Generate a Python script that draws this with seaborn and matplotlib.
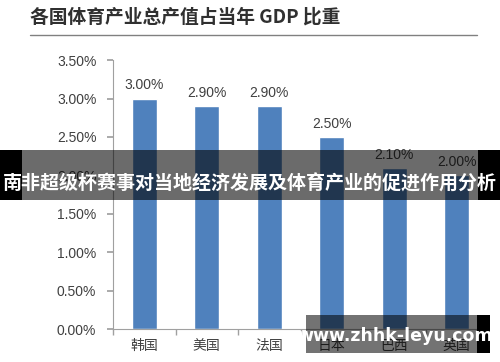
import matplotlib
matplotlib.use("Agg")
import matplotlib.pyplot as plt
import seaborn as sns
import pandas as pd
from matplotlib.patches import Rectangle

countries = ["韩国", "美国", "法国", "日本", "巴西", "英国"]
shares = [3.00, 2.90, 2.90, 2.50, 2.10, 2.00]
yticks = [0.0, 0.5, 1.0, 1.5, 2.0, 2.5, 3.0, 3.5]
title = "各国体育产业总产值占当年 GDP 比重"
banner = "南非超级杯赛事对当地经济发展及体育产业的促进作用分析"
watermark = "www.zhhk-leyu.com"

sns.set_theme(style="white")
plt.rcParams['font.family'] = ['Noto Sans CJK SC', 'DejaVu Sans']

df = pd.DataFrame({"country": countries, "share": shares})

fig = plt.figure(figsize=(5, 3.62), dpi=100)
ax = fig.add_axes([0.226, 0.091, 0.75, 0.743])
sns.barplot(data=df, x="country", y="share", color="#4f81bd", saturation=1,
            width=0.4, ax=ax)

ax.set_ylim(0, 3.5)
ax.set_xlim(-0.5, len(countries) - 0.5)
ax.set_yticks(yticks)
ax.set_yticklabels([f"{v:.2f}%" for v in yticks], fontsize=10, color="#404040",
                   family=["Liberation Sans", "DejaVu Sans"])
ax.set_xticks(range(len(countries)))
ax.set_xticklabels(countries, fontsize=10, color="#404040")
ax.set_xlabel("")
ax.set_ylabel("")
for s in ["top", "right"]:
    ax.spines[s].set_visible(False)
for s in ["left", "bottom"]:
    ax.spines[s].set_color("#a0a0a0")
    ax.spines[s].set_linewidth(0.8)
ax.tick_params(axis="y", length=4, color="#a0a0a0", left=True, pad=8)
ax.tick_params(axis="x", length=0, pad=7)
ax.set_xticks([i + 0.5 for i in range(-1, len(countries))], minor=True)
ax.tick_params(axis="x", which="minor", length=4, color="#a0a0a0", bottom=True)

for i, v in enumerate(shares):
    ax.text(i, v + 0.08, f"{v:.2f}%", ha="center", va="bottom", fontsize=10,
            color="#404040", family=["Liberation Sans", "DejaVu Sans"])

# title and rule
fig.text(30 / 500, 1 - 17 / 362, title, fontsize=13.5, fontweight="bold",
         color="#303030", va="center", ha="left")
fig.add_artist(plt.Line2D([30 / 500, 477 / 500], [1 - 35 / 362, 1 - 35 / 362],
                          color="#808080", linewidth=1, transform=fig.transFigure))

# banner overlay
fig.add_artist(Rectangle((0, 1 - 200 / 362), 1, 50 / 362, transform=fig.transFigure,
                         facecolor="black", alpha=0.58, edgecolor="none"))
fig.add_artist(Rectangle((0, 1 - 200 / 362), 22 / 500, 50 / 362, transform=fig.transFigure,
                         facecolor="black", edgecolor="none"))
fig.add_artist(Rectangle((478 / 500, 1 - 200 / 362), 22 / 500, 50 / 362, transform=fig.transFigure,
                         facecolor="black", edgecolor="none"))
fig.text(0.5, 1 - 184 / 362, banner, fontsize=13.7, fontweight="bold", color="white",
         ha="center", va="center")

# watermark
fig.add_artist(Rectangle((306 / 500, 1 - 353 / 362), 171 / 500, 38 / 362, transform=fig.transFigure,
                         facecolor="black", alpha=0.55, edgecolor="none"))
fig.add_artist(Rectangle((477 / 500, 1 - 353 / 362), 13 / 500, 38 / 362, transform=fig.transFigure,
                         facecolor="black", edgecolor="none"))
fig.text(395 / 500, 1 - 336 / 362, watermark, fontsize=12.5, fontweight="bold", color="white",
         ha="center", va="center", family=["DejaVu Sans"])

fig.savefig("out.png", dpi=100)
